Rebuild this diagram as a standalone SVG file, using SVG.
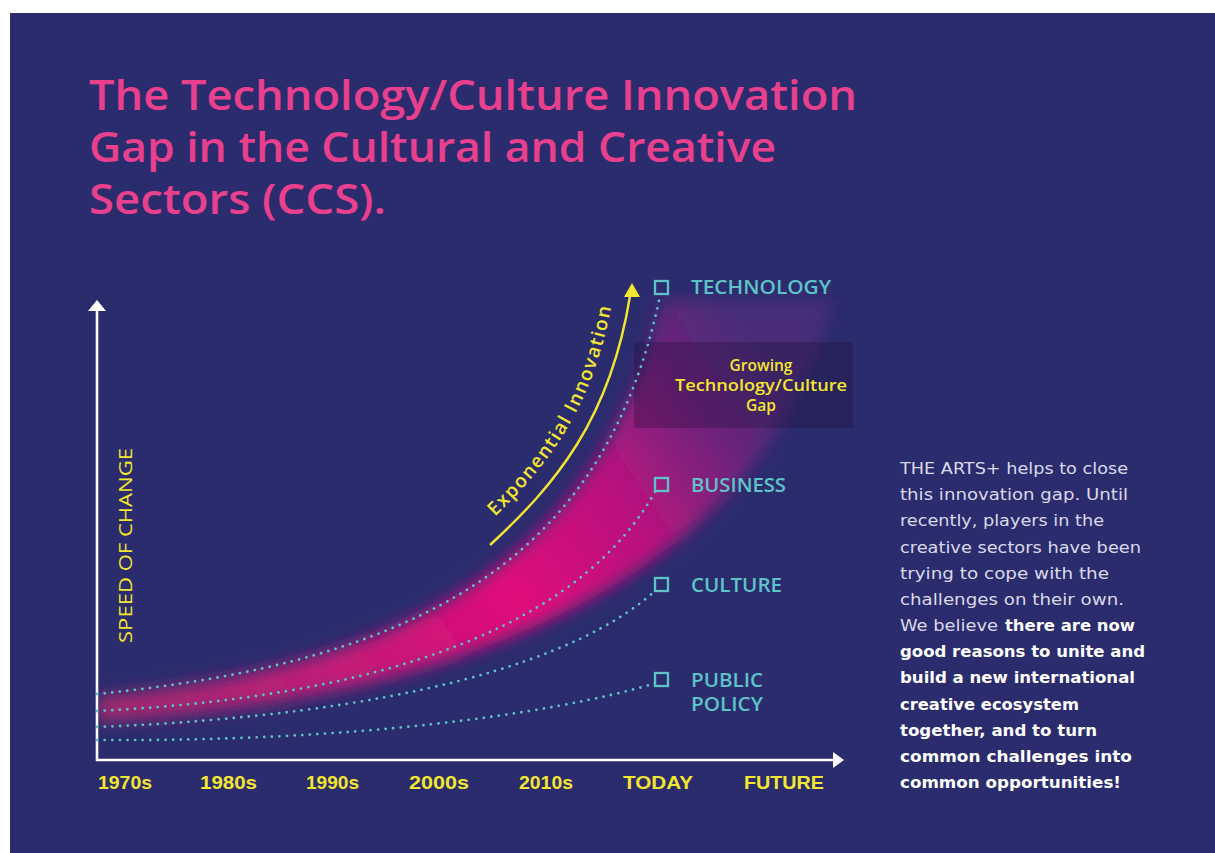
<svg xmlns="http://www.w3.org/2000/svg" width="1215" height="853" viewBox="0 0 1215 853">
<style>
.title{font-family:"Open Sans","Liberation Sans",sans-serif;font-weight:600;font-size:41px;fill:#e8408d}
.lbl{font-family:"Open Sans","Liberation Sans",sans-serif;font-weight:600;font-size:19px;fill:#5ec3c6}
.yr{font-family:"Liberation Sans","DejaVu Sans",sans-serif;font-weight:700;font-size:19px;fill:#f3e630}
.yel{fill:#f3e630}
.dot{fill:none;stroke:#5ec3c6;stroke-width:2.8;stroke-linecap:round;stroke-dasharray:0 7.6}
.box{fill:none;stroke:#5ec3c6;stroke-width:2.3}
.para{font-family:"DejaVu Sans","Liberation Sans",sans-serif;font-size:15px;fill:#d9d9ea}
.parab{font-family:"DejaVu Sans","Liberation Sans",sans-serif;font-size:15px;font-weight:700;fill:#ffffff}
.axis{stroke:#ffffff;stroke-width:2.6;fill:none}
</style>
<defs>
<linearGradient id="bandGrad" gradientUnits="userSpaceOnUse" x1="100" y1="715" x2="720" y2="290">
<stop offset="0" stop-color="#a02a70"/>
<stop offset="0.3" stop-color="#c31c78"/>
<stop offset="0.55" stop-color="#df0a7c"/>
<stop offset="0.75" stop-color="#c4127f" stop-opacity="0.9"/>
<stop offset="1" stop-color="#6a2a85" stop-opacity="0.45"/>
</linearGradient>
<filter id="blur" filterUnits="userSpaceOnUse" x="60" y="250" width="840" height="520">
<feGaussianBlur stdDeviation="8"/>
</filter>
<clipPath id="plotClip"><rect x="99" y="280" width="800" height="478"/></clipPath>
</defs>

<rect x="0" y="0" width="1215" height="853" fill="#ffffff"/>
<rect x="10" y="13" width="1205" height="840" fill="#2b2c6e"/>

<g id="title">
<text class="title" x="89" y="110" textLength="768" lengthAdjust="spacingAndGlyphs">The Technology/Culture Innovation</text>
<text class="title" x="89" y="162" textLength="687" lengthAdjust="spacingAndGlyphs">Gap in the Cultural and Creative</text>
<text class="title" x="89" y="214" textLength="297" lengthAdjust="spacingAndGlyphs">Sectors (CCS).</text>
</g>

<g id="gap-band" clip-path="url(#plotClip)">
<g filter="url(#blur)">
<path d="M97,697 C 400,668 600,565 662,300 L 832,300 C 780,520 560,692 97,722 Z" fill="url(#bandGrad)"/>
</g>
</g>

<g id="gap-overlay">
<rect x="634" y="342" width="219" height="86" fill="#1e0e36" opacity="0.3"/>
</g>

<g id="axes">
<line class="axis" x1="97" y1="761" x2="97" y2="308"/>
<polygon points="97,300 88,311 106,311" fill="#ffffff"/>
<line class="axis" x1="96" y1="760" x2="834" y2="760"/>
<polygon points="844,760 833,752 833,768" fill="#ffffff"/>
</g>

<g id="connectors">
<path class="dot" d="M97,694 C 420,662 605,560 660,296"/>
<path class="dot" d="M97,711 C 420,695 590,610 656,490"/>
<path class="dot" d="M97,727 C 400,715 580,660 656,590"/>
<path class="dot" d="M97,740 C 350,742 550,715 656,683"/>
<path id="expArrow" d="M490,545 C 555,485 610,420 630,296" fill="none" stroke="#f3e630" stroke-width="2.4"/>
<polygon points="632,283 624,297 640,297" fill="#f3e630"/>
</g>

<g id="exp-label">
<path id="expPath" d="M479,532 C 543,472 595,413 614,290" fill="none"/>
<text font-family="Open Sans, Liberation Sans, sans-serif" font-weight="600" font-size="19" class="yel"><textPath href="#expPath" startOffset="22" textLength="244" lengthAdjust="spacing">Exponential Innovation</textPath></text>
</g>

<g id="node-technology">
<rect class="box" x="655" y="281" width="13" height="13"/>
<text class="lbl" x="691" y="294" textLength="140" lengthAdjust="spacingAndGlyphs">TECHNOLOGY</text>
</g>
<g id="node-business">
<rect class="box" x="655" y="478" width="13" height="13"/>
<text class="lbl" x="691" y="492" textLength="95" lengthAdjust="spacingAndGlyphs">BUSINESS</text>
</g>
<g id="node-culture">
<rect class="box" x="655" y="578" width="13" height="13"/>
<text class="lbl" x="691" y="592" textLength="91" lengthAdjust="spacingAndGlyphs">CULTURE</text>
</g>
<g id="node-policy">
<rect class="box" x="655" y="673" width="13" height="13"/>
<text class="lbl" x="691" y="687" textLength="72" lengthAdjust="spacingAndGlyphs">PUBLIC</text>
<text class="lbl" x="691" y="711" textLength="72" lengthAdjust="spacingAndGlyphs">POLICY</text>
</g>

<g id="gap-label" font-family="Open Sans, Liberation Sans, sans-serif" font-weight="600" font-size="15.5" class="yel" text-anchor="middle">
<text x="761" y="371">Growing</text>
<text x="761" y="391" textLength="172" lengthAdjust="spacingAndGlyphs">Technology/Culture</text>
<text x="761" y="411">Gap</text>
</g>

<g id="y-label">
<text class="yr" transform="translate(132,643) rotate(-90)" textLength="195" lengthAdjust="spacingAndGlyphs" style="font-weight:400;font-family:'Open Sans','Liberation Sans',sans-serif">SPEED OF CHANGE</text>
</g>

<g id="x-labels">
<text class="yr" x="98" y="789" textLength="54" lengthAdjust="spacingAndGlyphs">1970s</text>
<text class="yr" x="200" y="789" textLength="57" lengthAdjust="spacingAndGlyphs">1980s</text>
<text class="yr" x="306" y="789" textLength="53" lengthAdjust="spacingAndGlyphs">1990s</text>
<text class="yr" x="409" y="789" textLength="60" lengthAdjust="spacingAndGlyphs">2000s</text>
<text class="yr" x="519" y="789" textLength="54" lengthAdjust="spacingAndGlyphs">2010s</text>
<text class="yr" x="623" y="789" textLength="70" lengthAdjust="spacingAndGlyphs">TODAY</text>
<text class="yr" x="744" y="789" textLength="80" lengthAdjust="spacingAndGlyphs">FUTURE</text>
</g>

<g id="paragraph">
<text class="para" x="900" y="474" textLength="228" lengthAdjust="spacingAndGlyphs">THE ARTS+ helps to close</text>
<text class="para" x="900" y="500" textLength="228" lengthAdjust="spacingAndGlyphs">this innovation gap. Until</text>
<text class="para" x="900" y="526" textLength="204" lengthAdjust="spacingAndGlyphs">recently, players in the</text>
<text class="para" x="900" y="553" textLength="241" lengthAdjust="spacingAndGlyphs">creative sectors have been</text>
<text class="para" x="900" y="579" textLength="209" lengthAdjust="spacingAndGlyphs">trying to cope with the</text>
<text class="para" x="900" y="605" textLength="224" lengthAdjust="spacingAndGlyphs">challenges on their own.</text>
<text class="para" x="900" y="631" textLength="98" lengthAdjust="spacingAndGlyphs">We believe</text>
<text class="parab" x="1005" y="631" textLength="130" lengthAdjust="spacingAndGlyphs">there are now</text>
<text class="parab" x="900" y="657" textLength="245" lengthAdjust="spacingAndGlyphs">good reasons to unite and</text>
<text class="parab" x="900" y="683" textLength="235" lengthAdjust="spacingAndGlyphs">build a new international</text>
<text class="parab" x="900" y="710" textLength="179" lengthAdjust="spacingAndGlyphs">creative ecosystem</text>
<text class="parab" x="900" y="736" textLength="197" lengthAdjust="spacingAndGlyphs">together, and to turn</text>
<text class="parab" x="900" y="762" textLength="232" lengthAdjust="spacingAndGlyphs">common challenges into</text>
<text class="parab" x="900" y="788" textLength="221" lengthAdjust="spacingAndGlyphs">common opportunities!</text>
</g>
</svg>
